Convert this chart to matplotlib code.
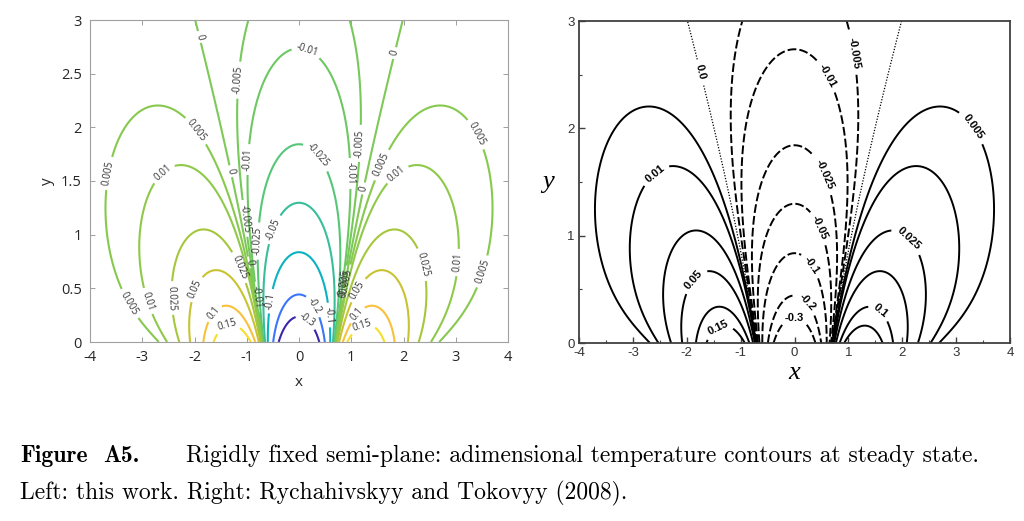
import numpy as np
import matplotlib as mpl
import matplotlib.pyplot as plt
from matplotlib.colors import LinearSegmentedColormap, Normalize

mpl.rcParams['axes.unicode_minus'] = False

# --- data -------------------------------------------------------------
# boundary temperature of the semi-plane: T(x, 0) = (x^2 - 1/2) exp(-x^2)
bc_shift = 0.5
x_range = [-4, 4]
y_range = [0, 3]
levels = [-0.3, -0.2, -0.1, -0.05, -0.025, -0.01, -0.005, 0.0,
          0.005, 0.01, 0.025, 0.05, 0.1, 0.15]
xticks = [-4, -3, -2, -1, 0, 1, 2, 3, 4]
yticks_left = [0, 0.5, 1, 1.5, 2, 2.5, 3]
yticks_right = [0, 1, 2, 3]
caption_1 = "Rigidly fixed semi-plane: adimensional temperature contours at steady state."
caption_2 = "Left: this work. Right: Rychahivskyy and Tokovyy (2008)."

# steady state (harmonic) field via Fourier transform of the boundary data
x = np.linspace(x_range[0], x_range[1], 801)
y = np.linspace(y_range[0], y_range[1], 451)
k = np.linspace(0, 14, 2801)
wk = np.full_like(k, k[1] - k[0])
wk[[0, -1]] *= 0.5
# FT of (x^2 - 1/2)exp(-x^2) is -(sqrt(pi)/4) k^2 exp(-k^2/4)
W = k**2 * np.exp(-k**2 / 4 - np.outer(y, k)) * wk
T = -(W @ np.cos(np.outer(k, x))) / (4 * np.sqrt(np.pi)) * (bc_shift / 0.5)
X, Y = np.meshgrid(x, y)

# parula-like colormap
parula = LinearSegmentedColormap.from_list("parula", [
    (0.00, (0.2422, 0.1504, 0.6603)),
    (0.11, (0.2810, 0.3228, 0.9579)),
    (0.19, (0.2440, 0.4358, 0.9988)),
    (0.25, (0.1540, 0.5902, 0.9218)),
    (0.37, (0.0282, 0.6800, 0.8000)),
    (0.44, (0.0640, 0.7200, 0.6900)),
    (0.50, (0.2178, 0.7450, 0.6099)),
    (0.56, (0.3633, 0.7839, 0.4371)),
    (0.62, (0.5571, 0.7891, 0.2908)),
    (0.68, (0.7353, 0.7690, 0.1907)),
    (0.75, (0.8990, 0.7516, 0.2120)),
    (0.81, (0.9909, 0.7567, 0.2364)),
    (0.87, (0.9690, 0.8389, 0.1777)),
    (0.94, (0.9589, 0.9211, 0.1137)),
    (1.00, (0.9763, 0.9831, 0.0538)),
])
norm = Normalize(-0.3, 0.2)

fig = plt.figure(figsize=(10.24, 5.21), dpi=100)

# --- left panel ---------------------------------------------------------
axL = fig.add_axes([90/1024, 1 - 342/521, 418/1024, 322/521])
axL.set_xlim(x_range)
axL.set_ylim(y_range)
axL.set_xticks(xticks)
axL.set_yticks(yticks_left)
axL.set_xticklabels([str(v) for v in xticks])
axL.set_yticklabels(["0", "0.5", "1", "1.5", "2", "2.5", "3"])
for s in axL.spines.values():
    s.set_color('#a0a0a0')
    s.set_linewidth(0.8)
axL.tick_params(direction='in', length=3.5, width=0.7, color='#a0a0a0',
                top=True, right=True, labelsize=10.5, labelcolor='#262626', pad=6)
for t in axL.get_xticklabels() + axL.get_yticklabels():
    t.set_family('Open Sans')
axL.set_xlabel('x', family='Open Sans', fontsize=11, color='#262626', labelpad=7)
axL.set_ylabel('y', family='Open Sans', fontsize=11, color='#262626', labelpad=4)

lab_left = {
    -0.3: [(0.11, 0.18)],
    -0.2: [(0.27, 0.33)],
    -0.1: [(-0.54, 0.38), (0.55, 0.25)],
    -0.05: [(-0.49, 1.05)],
    -0.025: [(0.34, 1.73), (-0.78, 0.94)],
    -0.01: [(0.13, 2.70), (-0.97, 1.70), (0.94, 1.57), (-0.78, 0.42)],
    -0.005: [(-1.16, 2.44), (1.17, 1.85), (-1.06, 1.15), (0.72, 0.55)],
    0.0: [(-1.92, 2.84), (1.84, 2.69), (-1.32, 1.59), (1.24, 1.43),
          (-0.85, 0.75), (0.76, 0.45)],
    0.005: [(-1.99, 1.96), (-3.63, 1.57), (1.58, 1.65), (3.37, 1.93),
            (3.49, 0.66), (-3.23, 0.36), (0.80, 0.58)],
    0.01: [(-2.59, 1.57), (1.87, 1.57), (3.05, 0.74), (-2.90, 0.38)],
    0.025: [(2.35, 0.72), (-2.43, 0.41), (-1.16, 0.69)],
    0.05: [(-1.96, 0.49), (1.17, 0.47)],
    0.1: [(-1.63, 0.27), (1.12, 0.25)],
    0.15: [(-1.35, 0.12), (1.23, 0.13)],
}
for lev in levels:
    cs = axL.contour(X, Y, T, levels=[lev], colors=[parula(norm(lev))],
                     linewidths=1.5, linestyles='solid')
    txt = cs.clabel(manual=lab_left[lev], fmt='%g', fontsize=7,
                    colors='#333333', inline=True, inline_spacing=3)
    for t in txt:
        t.set_family('Open Sans')

# --- right panel --------------------------------------------------------
axR = fig.add_axes([579/1024, 1 - 343/521, 431/1024, 322/521])
axR.set_xlim(x_range)
axR.set_ylim(y_range)
axR.set_xticks(xticks)
axR.set_yticks(yticks_right)
axR.set_xticks(np.arange(-3.5, 4, 1), minor=True)
axR.set_yticks([0.5, 1.5, 2.5], minor=True)
for s in axR.spines.values():
    s.set_color('#404040')
    s.set_linewidth(1.3)
axR.tick_params(which='both', direction='in', color='#404040', labelsize=9.5,
                labelcolor='#333333', pad=3)
axR.tick_params(which='major', length=4, width=1)
axR.tick_params(which='minor', length=2.5, width=0.8)
for t in axR.get_xticklabels() + axR.get_yticklabels():
    t.set_family('Liberation Sans')
axR.set_xlabel('x', family='Liberation Serif', style='italic', fontsize=19, labelpad=2)
axR.set_ylabel('y', family='Liberation Serif', style='italic', fontsize=19,
               rotation=0, labelpad=14, va='center')

lab_right = {
    0.0: [(-1.72, 2.53)],
    -0.01: [(0.61, 2.49)],
    -0.005: [(1.09, 2.70)],
    0.005: [(3.30, 2.01)],
    0.01: [(-2.56, 1.56)],
    -0.025: [(0.50, 1.56)],
    -0.05: [(0.41, 1.06)],
    0.025: [(2.11, 0.97)],
    -0.1: [(0.30, 0.72)],
    0.05: [(-1.82, 0.57)],
    -0.2: [(0.22, 0.37)],
    -0.3: [(0.0, 0.20)],
    0.1: [(1.59, 0.30)],
    0.15: [(-1.36, 0.09)],
}
for lev in levels:
    if lev < 0:
        ls, lw = (0, (4.5, 1.6)), 1.4
    elif lev == 0:
        ls, lw = (0, (1, 1.3)), 0.9
    else:
        ls, lw = 'solid', 1.4
    cs = axR.contour(X, Y, T, levels=[lev], colors='black',
                     linewidths=lw, linestyles=[ls])
    fmt = {lev: '0.0' if lev == 0 else '%g' % lev}
    txt = cs.clabel(manual=lab_right[lev], fmt=fmt, fontsize=8,
                    colors='black', inline=True, inline_spacing=4)
    for t in txt:
        t.set_family('Liberation Sans')
        t.set_fontweight('bold')

# --- caption --------------------------------------------------------------
cap_size = 17
fig.text(20/1024, 1 - 462/521, "Figure", family='cmb10', fontsize=cap_size, va='baseline')
fig.text(103/1024, 1 - 462/521, "A5.", family='cmb10', fontsize=cap_size, va='baseline')
fig.text(186/1024, 1 - 462/521, caption_1, family='cmr10', fontsize=cap_size, va='baseline')
fig.text(20/1024, 1 - 499/521, caption_2, family='cmr10', fontsize=cap_size, va='baseline')

fig.savefig('out.png', dpi=100)
